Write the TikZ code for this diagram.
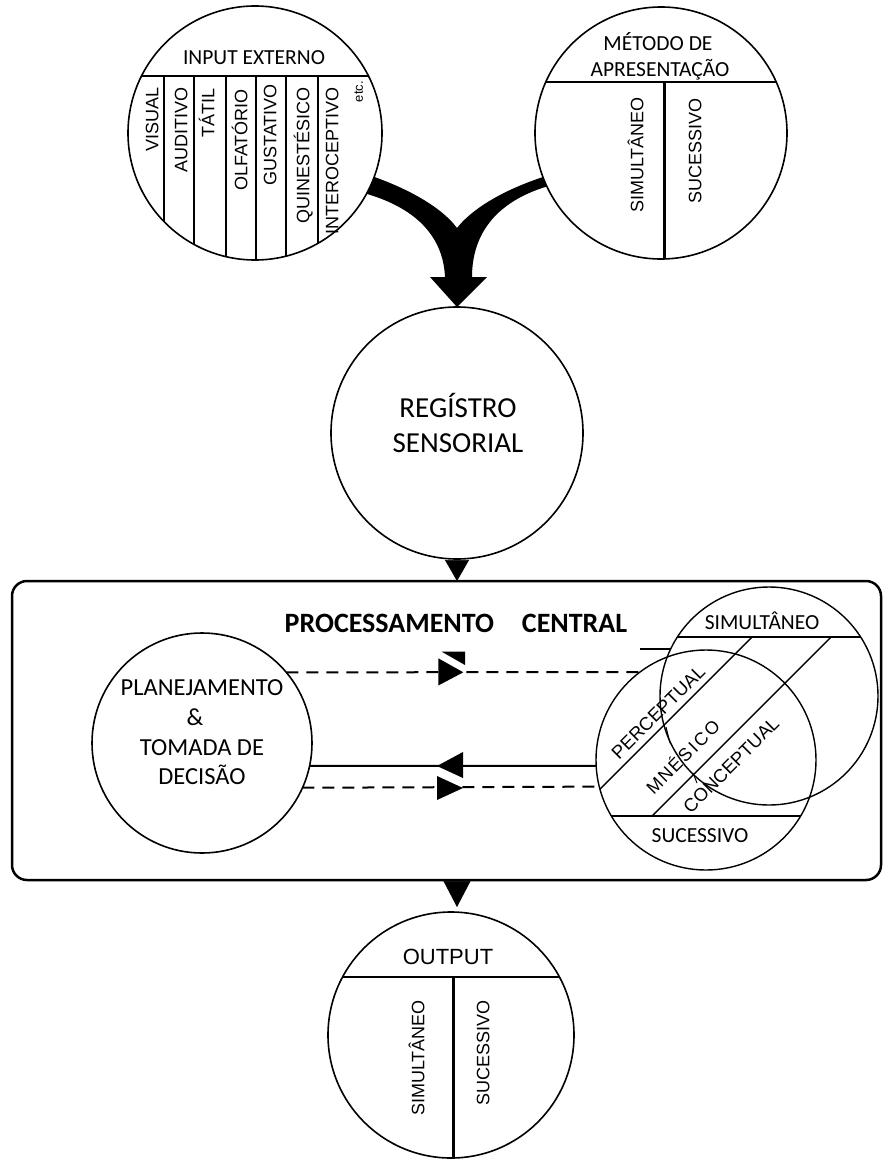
\documentclass[tikz,border=0pt]{standalone}
\usepackage{fontspec}
\setmainfont{Carlito}
\newfontfamily\arialf{Liberation Sans}
\usetikzlibrary{arrows.meta,calc}
\begin{document}
\begin{tikzpicture}[x=1pt,y=-1pt,
  ring/.style={circle,draw,line width=1.6pt,inner sep=0pt,outer sep=0pt},
  vlab/.style={font=\arialf\fontsize{18}{20}\selectfont,rotate=90,anchor=east,inner sep=0pt,text height=12.9pt,text depth=0pt},
  cal/.style={anchor=base,inner sep=0pt},
  divline/.style={line width=1.4pt},
  thickdiv/.style={line width=3pt},
  dashconn/.style={line width=2pt,dash pattern=on 12pt off 8pt},
  solidconn/.style={line width=2pt},
  headfill/.style={fill=black,draw=none},
  droptri/.style={-{Triangle[length=21pt,width=24pt]},line width=0.5pt},
  diaglab/.style={font=\arialf\fontsize{18.5}{20}\selectfont,rotate=45,inner sep=0pt,text height=13.2pt,text depth=0pt},
]
\useasboundingbox (0,0) rectangle (883,1159);

% thick converging arrow
\fill (356,171) .. controls (400,184) and (440,205) .. (457,228)
  .. controls (475,205) and (515,184) .. (560,172)
  -- (560,183) .. controls (495,198) and (472,235) .. (472,277)
  -- (487,277) -- (457,307) -- (430,277) -- (445,277)
  .. controls (443,232) and (410,204) .. (356,191) -- cycle;

% circles
\node[ring,fill=white,minimum size=254pt] (inp) at (255,133) {};
\node[ring,fill=white,minimum size=252pt] (met) at (661,133) {};
\node[ring,minimum size=252pt] (reg) at (457,433) {};
\node[draw,line width=2.5pt,rounded corners=15pt,minimum width=869pt,minimum height=299pt,inner sep=0pt,outer sep=0pt] (box) at (446.5,730.5) {};
\node[ring,minimum size=220pt] (plan) at (202,743) {};
\node[ring,minimum size=218pt,line width=1.4pt] (simc) at (769,696) {};
\node[ring,minimum size=220pt,line width=1.4pt] (lowc) at (706,760) {};
\node[ring,minimum size=246pt] (outc) at (451,1035) {};

% input circle
\begin{scope}
\clip (255,133) circle[radius=127pt];
\draw[divline] (100,76) -- (400,76);
\foreach \xx in {164,194,226,256,286,318} \draw[divline] (\xx,76) -- (\xx,300);
\end{scope}
\node[cal,font=\fontsize{21.5}{24}\selectfont] at (254,64) {INPUT EXTERNO};
\node[vlab] at (152,87) {VISUAL};
\node[vlab] at (181,87) {AUDITIVO};
\node[vlab] at (208,88) {TÁTIL};
\node[vlab] at (241,89) {OLFATÓRIO};
\node[vlab] at (270,84) {GUSTATIVO};
\node[vlab] at (303,87) {QUINESTÉSICO};
\node[vlab] at (332,87) {INTEROCEPTIVO};
\node[vlab,font=\arialf\fontsize{13}{14}\selectfont,text height=9.5pt] at (358,81) {etc.};

% method circle
\begin{scope}
\clip (661,133) circle[radius=126pt];
\draw[divline] (520,82) -- (800,82);
\draw[thickdiv] (664,82) -- (664,270);
\end{scope}
\node[cal,font=\fontsize{21.5}{24}\selectfont] at (658,50) {MÉTODO DE};
\node[cal,font=\fontsize{21.5}{24}\selectfont] at (660,76) {APRESENTAÇÃO};
\node[vlab] at (637,97) {SIMULTÂNEO};
\node[vlab] at (695,98) {SUCESSIVO};

% registro
\node[cal,font=\fontsize{29}{32}\selectfont] at (458,417.3) {REGÍSTRO};
\node[cal,font=\fontsize{29}{32}\selectfont] at (458,452.3) {SENSORIAL};
\draw[droptri] (reg.south) -- (reg.south |- box.north);

% central processing
\node[cal,font=\bfseries\fontsize{28}{32}\selectfont] at (456,632) {PROCESSAMENTO\hspace{1em}CENTRAL};
\node[cal,font=\fontsize{24.5}{28}\selectfont] at (202,695.8) {PLANEJAMENTO};
\node[cal,font=\fontsize{24.5}{28}\selectfont] at (195,725.8) {\&};
\node[cal,font=\fontsize{24.5}{28}\selectfont] at (202,755.8) {TOMADA DE};
\node[cal,font=\fontsize{24.5}{28}\selectfont] at (202,784.8) {DECISÃO};

\draw[dashconn] (plan.40) -- (lowc.127);
\draw[solidconn] (plan.-12) -- (lowc.183);
\draw[dashconn] (plan.-24) -- (lowc.194.5);
\fill[headfill] (441.7,651.7) -- (465,651.7) -- (465,665) -- cycle;
\fill[headfill] (438.3,658.3) -- (463.3,672.3) -- (438.3,685.5) -- cycle;
\fill[headfill] (437,766) -- (463,752) -- (463,778) -- cycle;
\fill[headfill] (437,776) -- (463,788) -- (437,800) -- cycle;

% right circles
\draw[divline] (640,649) -- (671,649);
\begin{scope}\clip (769,696) circle[radius=109pt]; \draw[divline] (650,637) -- (890,637); \end{scope}
\begin{scope}\clip (706,760) circle[radius=110pt]; \draw[divline] (590,816) -- (830,816); \end{scope}
\draw[divline] (752,637) -- (599.9,789.1);
\draw[divline] (831,637) -- (652,816);
\draw[line width=1pt] (666,727) -- (670,743);
\draw[line width=1pt] (693,773) -- (697,783);
\node[cal,font=\fontsize{21.5}{24}\selectfont] at (762,629) {SIMULTÂNEO};
\node[cal,font=\fontsize{21.5}{24}\selectfont] at (700,842) {SUCESSIVO};
\node[diaglab] at (658,712) {PERCEPTUAL};
\node[diaglab,font=\arialf\fontsize{18}{20}\selectfont,text height=12.9pt] at (683,757) {M\kern1.5pt N\kern1.5pt É\kern1.5pt S\kern3pt I\kern2pt C\kern2pt O};
\node[diaglab] at (731,765) {CONCEPTUAL};

% output
\coordinate (outtip) at (457,907);
\draw[-{Triangle[length=26pt,width=27pt]},line width=0.5pt] (box.south -| outtip) -- (outtip);
\begin{scope}
\clip (451,1035) circle[radius=123pt];
\draw[divline] (320,977) -- (580,977);
\draw[thickdiv] (453,977) -- (453,1170);
\end{scope}
\node[cal,font=\arialf\fontsize{22}{24}\selectfont] at (448,964.9) {OUTPUT};
\node[vlab] at (418,1000) {SIMULTÂNEO};
\node[vlab] at (483,1000) {SUCESSIVO};
\end{tikzpicture}
\end{document}
